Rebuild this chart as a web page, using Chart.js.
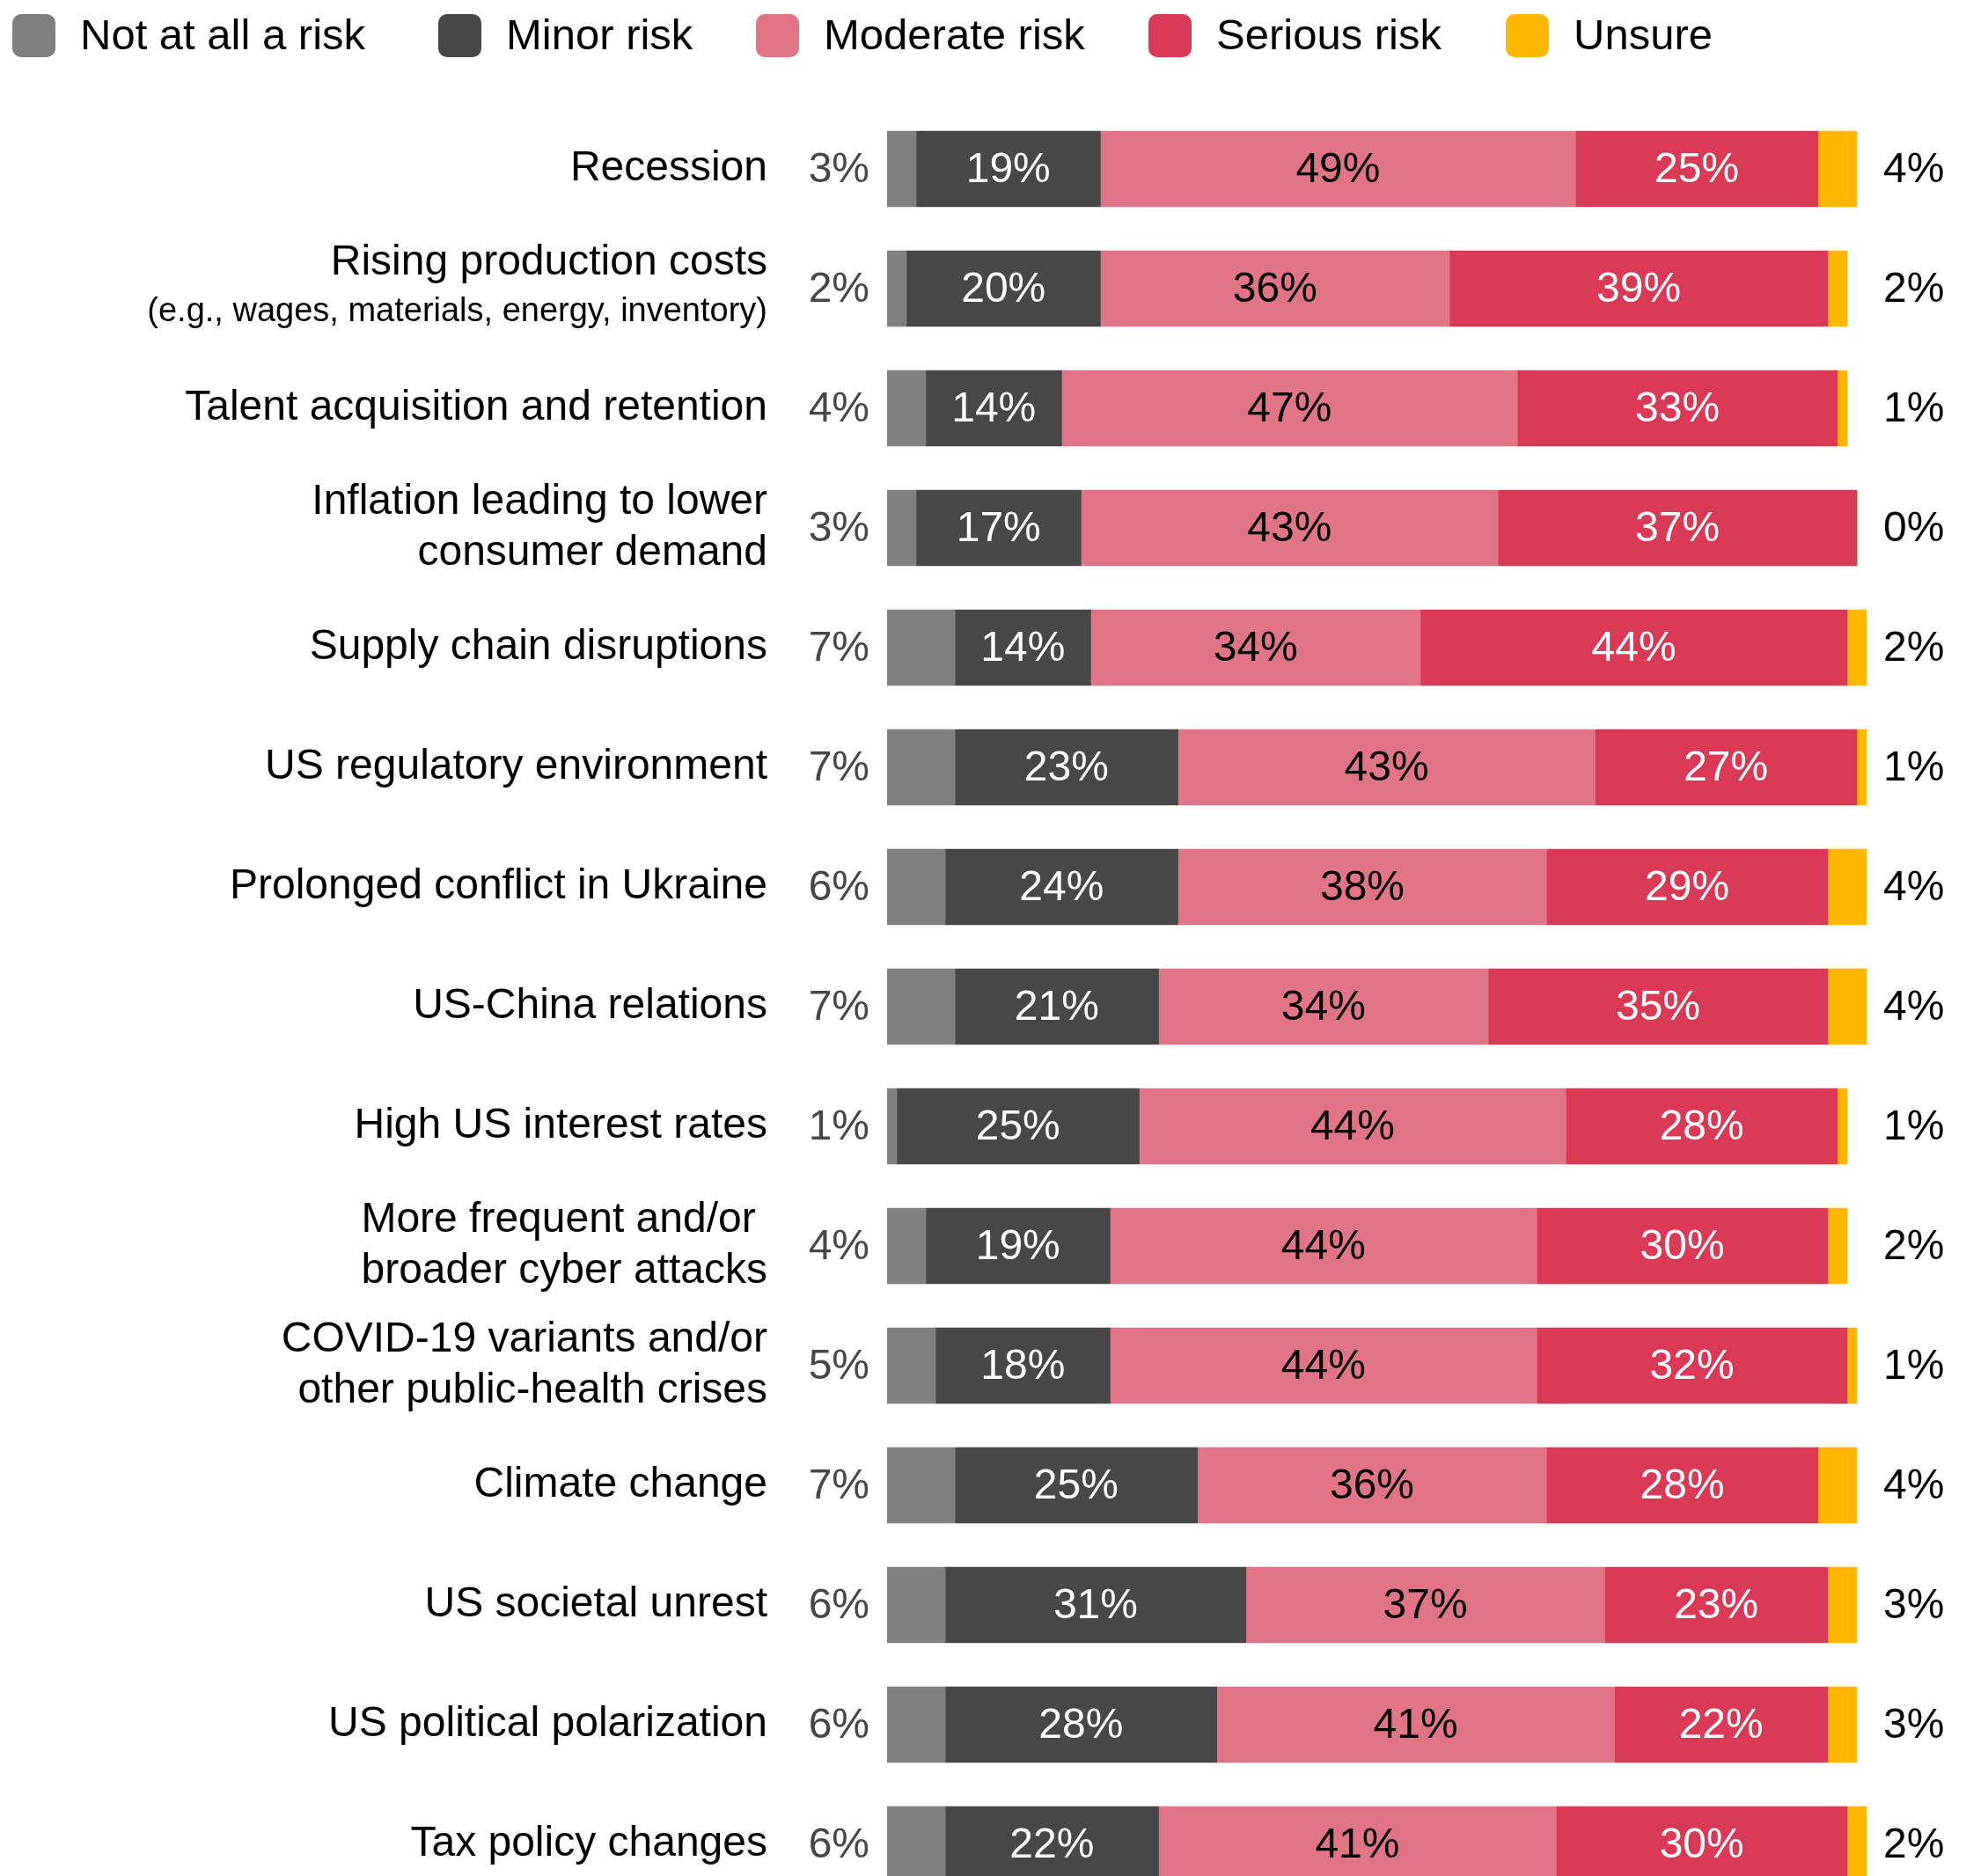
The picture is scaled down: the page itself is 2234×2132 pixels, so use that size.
<!DOCTYPE html>
<html>
<head>
<meta charset="utf-8">
<script src="https://cdn.jsdelivr.net/npm/chart.js@4.4.1/dist/chart.umd.min.js"></script>
<style>
  html, body { margin: 0; padding: 0; background: #fff; overflow: hidden; }
  #wrap { width: 2234px; height: 2164px; }
</style>
</head>
<body>
<div id="wrap"><canvas id="riskChart"></canvas></div>
<script>
// Categories (multi-line ones as arrays)
const categories = [
    'Recession',
    ['Rising production costs', ''],
    'Talent acquisition and retention',
    ['Inflation leading to lower', 'consumer demand'],
    'Supply chain disruptions',
    'US regulatory environment',
    'Prolonged conflict in Ukraine',
    'US-China relations',
    'High US interest rates',
    ['More frequent and/or ', 'broader cyber attacks'],
    ['COVID-19 variants and/or', 'other public-health crises'],
    'Climate change',
    'US societal unrest',
    'US political polarization',
    'Tax policy changes'
];
const categoryNotes = ['', '(e.g., wages, materials, energy, inventory)', '', '', '', '', '', '', '', '', '', '', '', '', ''];

const seriesNames = ['Not at all a risk', 'Minor risk', 'Moderate risk', 'Serious risk', 'Unsure'];
const notAtAll = [3, 2, 4, 3, 7, 7, 6, 7, 1, 4, 5, 7, 6, 6, 6];
const minorRisk = [19, 20, 14, 17, 14, 23, 24, 21, 25, 19, 18, 25, 31, 28, 22];
const moderateRisk = [49, 36, 47, 43, 34, 43, 38, 34, 44, 44, 44, 36, 37, 41, 41];
const seriousRisk = [25, 39, 33, 37, 44, 27, 29, 35, 28, 30, 32, 28, 23, 22, 30];
const unsure = [4, 2, 1, 0, 2, 1, 4, 4, 1, 2, 1, 4, 3, 3, 2];

const colors = ['#808080', '#474747', '#E27488', '#D93955', '#FFB600'];
const inLabelColors = [null, '#ffffff', '#000000', '#ffffff', null];

const FONT = '"Liberation Sans", Arial, Helvetica, sans-serif';

// legend drawn at the top-left, boxes with rounded corners
const topLegend = {
    id: 'topLegend',
    afterDraw(chart) {
        const ctx = chart.ctx;
        const boxX = [14, 498, 859, 1305, 1711];
        ctx.save();
        ctx.font = '49px ' + FONT;
        ctx.textBaseline = 'middle';
        ctx.textAlign = 'left';
        chart.data.datasets.forEach((ds, i) => {
            ctx.fillStyle = ds.backgroundColor;
            ctx.beginPath();
            ctx.roundRect(boxX[i], 16, 49, 49, 10);
            ctx.fill();
            ctx.fillStyle = '#000';
            ctx.fillText(ds.label, boxX[i] + 77, 42);
        });
        ctx.restore();
    }
};

// percentages inside and beside the bars, plus the small note line
const valueLabels = {
    id: 'valueLabels',
    afterDatasetsDraw(chart) {
        const ctx = chart.ctx;
        const area = chart.chartArea;
        const xs = chart.scales.x;
        const ys = chart.scales.y;
        ctx.save();
        ctx.font = '48px ' + FONT;
        ctx.textBaseline = 'middle';
        chart.data.datasets.forEach((ds, di) => {
            const meta = chart.getDatasetMeta(di);
            meta.data.forEach((bar, i) => {
                const text = ds.data[i] + '%';
                if (di === 0) {
                    ctx.textAlign = 'right';
                    ctx.fillStyle = '#474747';
                    ctx.fillText(text, area.left - 20, bar.y + 2);
                } else if (di === 4) {
                    ctx.textAlign = 'left';
                    ctx.fillStyle = '#000';
                    ctx.fillText(text, xs.getPixelForValue(101) + 19, bar.y + 2);
                } else {
                    ctx.textAlign = 'center';
                    ctx.fillStyle = inLabelColors[di];
                    ctx.fillText(text, (bar.x + bar.base) / 2, bar.y + 2);
                }
            });
        });
        ctx.font = '38px ' + FONT;
        ctx.textAlign = 'right';
        ctx.fillStyle = '#000';
        categoryNotes.forEach((note, i) => {
            if (!note) return;
            ctx.fillText(note, area.left - 136, ys.getPixelForValue(i) + 27);
        });
        ctx.restore();
    }
};

const seriesData = [notAtAll, minorRisk, moderateRisk, seriousRisk, unsure];

new Chart(document.getElementById('riskChart'), {
    type: 'bar',
    data: {
        labels: categories,
        datasets: seriesData.map((d, i) => ({
            label: seriesNames[i],
            data: d,
            backgroundColor: colors[i],
            borderWidth: 0,
            barThickness: 86
        }))
    },
    options: {
        indexAxis: 'y',
        responsive: true,
        maintainAspectRatio: false,
        animation: false,
        layout: { padding: { top: 124, right: 113, bottom: 0, left: 0 } },
        scales: {
            x: { stacked: true, min: 0, max: 101, display: false },
            y: {
                stacked: true,
                grid: { display: false, drawTicks: false },
                border: { display: false },
                ticks: {
                    color: '#000',
                    padding: 136,
                    font: { family: FONT, size: 48, lineHeight: 1.2 }
                },
                afterFit(scale) {
                    scale.width = 1008;
                    // tick padding should not eat vertical room
                    scale.paddingTop = 0;
                    scale.paddingBottom = 0;
                }
            }
        },
        plugins: {
            legend: { display: false },
            tooltip: { enabled: false }
        }
    },
    plugins: [topLegend, valueLabels]
});
</script>
</body>
</html>
